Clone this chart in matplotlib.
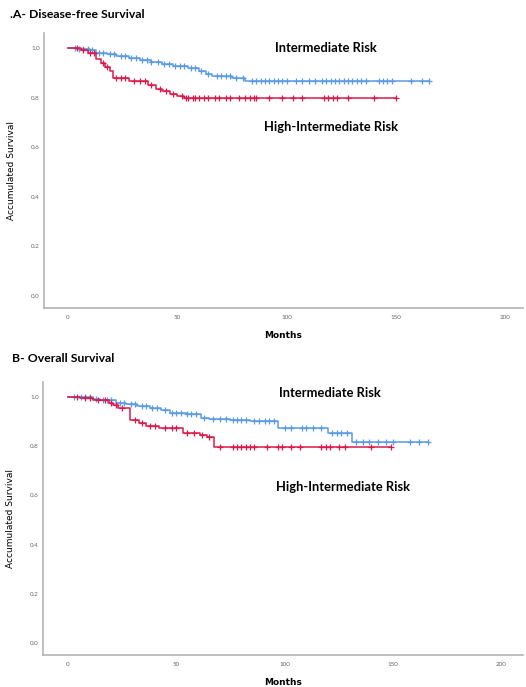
import matplotlib
matplotlib.use('Agg')
import matplotlib.pyplot as plt
import numpy as np

plt.rcParams['font.family'] = ['Lato', 'DejaVu Sans']

BLUE = '#5b9be6'
RED = '#d81b4b'

# Panel A - disease-free survival, step curves (time in months, survival)
dfs_int_t = [0, 5, 10, 13, 18, 22, 28, 33, 38, 43, 48, 55, 60, 63, 66, 75, 81]
dfs_int_s = [1.0, 0.995, 0.99, 0.98, 0.975, 0.968, 0.96, 0.953, 0.945, 0.935,
             0.928, 0.92, 0.905, 0.895, 0.885, 0.88, 0.865]
dfs_int_end = 165
dfs_int_cens = [3, 5, 7, 9, 11, 14, 16, 19, 21, 24, 26, 29, 31, 34, 36, 38, 41, 44,
                46, 49, 51, 53, 56, 58, 61, 64, 68, 70, 72, 74, 77, 80, 84, 86, 88,
                90, 92, 94, 96, 98, 100, 104, 107, 110, 113, 116, 118, 120, 122,
                124, 126, 128, 130, 132, 134, 136, 142, 144, 146, 148, 157, 162, 165]

dfs_hi_t = [0, 6, 9, 13, 15, 17, 19, 20.5, 28, 36.5, 40, 43, 46.5, 50, 53]
dfs_hi_s = [1.0, 0.99, 0.98, 0.955, 0.94, 0.925, 0.905, 0.88, 0.865, 0.85,
            0.835, 0.825, 0.815, 0.805, 0.8]
dfs_hi_end = 150
dfs_hi_cens = [4, 7, 10, 12, 16, 18, 22, 24, 26, 30, 33, 35, 38, 42, 45, 48, 52, 54,
               55, 57, 58, 60, 62, 64, 67, 69, 72, 74, 78, 81, 83, 85, 86, 92, 98,
               103, 107, 117, 119, 121, 123, 128, 140, 150]

# Panel B - overall survival
os_int_t = [0, 11.5, 15, 22, 27, 32, 38, 43, 47, 55, 61.5, 65, 75, 84, 97, 120, 131]
os_int_s = [1.0, 0.99, 0.985, 0.975, 0.97, 0.962, 0.955, 0.945, 0.935, 0.93,
            0.915, 0.908, 0.905, 0.9, 0.875, 0.855, 0.815]
os_int_end = 166
os_int_cens = [3, 6, 8, 10, 13, 16, 18, 20, 24, 26, 29, 31, 34, 36, 39, 41, 45, 48,
               50, 52, 55, 57, 59, 63, 67, 70, 73, 76, 78, 80, 82, 86, 88, 91, 93,
               95, 100, 103, 108, 110, 113, 117, 122, 124, 126, 129, 133, 136, 139,
               143, 147, 150, 158, 162, 166]

os_hi_t = [0, 5.5, 11.5, 19, 21, 23, 28.5, 33, 36, 42, 53, 61, 64, 67.5]
os_hi_s = [1.0, 0.995, 0.985, 0.975, 0.965, 0.955, 0.905, 0.895, 0.88, 0.873,
           0.855, 0.845, 0.835, 0.795]
os_hi_end = 149
os_hi_cens = [4, 8, 10, 14, 17, 20, 22, 25, 31, 34, 38, 40, 45, 48, 50, 55, 58, 62,
              65, 70, 76, 78, 80, 82, 84, 86, 92, 97, 99, 103, 107, 117, 119, 121,
              125, 128, 140, 149]

x_ticks = [0, 50, 100, 150, 200]
y_ticks = [0.0, 0.2, 0.4, 0.6, 0.8, 1.0]


def km(ax, t, s, end, cens, color):
    t = np.array(t + [end])
    s = np.array(s + [s[-1]])
    ax.step(t, s, where='post', color=color, lw=1.1)
    c = np.array(cens)
    cy = s[np.searchsorted(t, c, side='right') - 1]
    ax.plot(c, cy, ls='none', marker='+', ms=4.5, mew=0.9, color=color)


def style(ax):
    for sp in ['top', 'right']:
        ax.spines[sp].set_visible(False)
    for sp in ['left', 'bottom']:
        ax.spines[sp].set_color('#b4b4b4')
        ax.spines[sp].set_linewidth(1.2)
    ax.set_xlim(-11, 208)
    ax.set_ylim(-0.048, 1.06)
    ax.set_xticks(x_ticks)
    ax.set_yticks(y_ticks)
    ax.set_yticklabels(['%.1f' % v for v in y_ticks])
    ax.tick_params(length=0, labelsize=4.5, colors='#666666')
    ax.tick_params(axis='x', pad=5)
    ax.tick_params(axis='y', pad=3)
    ax.set_xlabel('Months', fontsize=6.5, fontweight='bold', labelpad=8,
                  family=['DejaVu Sans'])
    ax.set_ylabel('Accumulated Survival', fontsize=6.5, labelpad=0,
                  family=['DejaVu Sans'])
    ax.yaxis.set_label_coords(-0.058, 0.5)


fig = plt.figure(figsize=(5.26, 6.87), dpi=100)

axA = fig.add_axes([44 / 526, 1 - 308 / 687, 479 / 526, 275 / 687])
km(axA, dfs_int_t, dfs_int_s, dfs_int_end, dfs_int_cens, BLUE)
km(axA, dfs_hi_t, dfs_hi_s, dfs_hi_end, dfs_hi_cens, RED)
style(axA)
axA.text(118, 1.0, 'Intermediate Risk', fontsize=9.3, fontweight='bold',
         ha='center', va='center')
axA.text(120, 0.681, 'High-Intermediate Risk', fontsize=9.3, fontweight='bold',
         ha='center', va='center')
fig.text(10 / 526, 1 - 15 / 687, '.A- Disease-free Survival', fontsize=8.8,
         fontweight='bold', va='center')

axB = fig.add_axes([43 / 526, 1 - 655 / 687, 480 / 526, 273 / 687])
km(axB, os_int_t, os_int_s, os_int_end, os_int_cens, BLUE)
km(axB, os_hi_t, os_hi_s, os_hi_end, os_hi_cens, RED)
style(axB)
axB.set_xlim(-11.5, 210)
axB.text(121, 1.016, 'Intermediate Risk', fontsize=9.3, fontweight='bold',
         ha='center', va='center')
axB.text(127, 0.634, 'High-Intermediate Risk', fontsize=9.3, fontweight='bold',
         ha='center', va='center')
fig.text(12 / 526, 1 - 358 / 687, 'B- Overall Survival', fontsize=8.8,
         fontweight='bold', va='center')

fig.savefig('out.png', dpi=100)
